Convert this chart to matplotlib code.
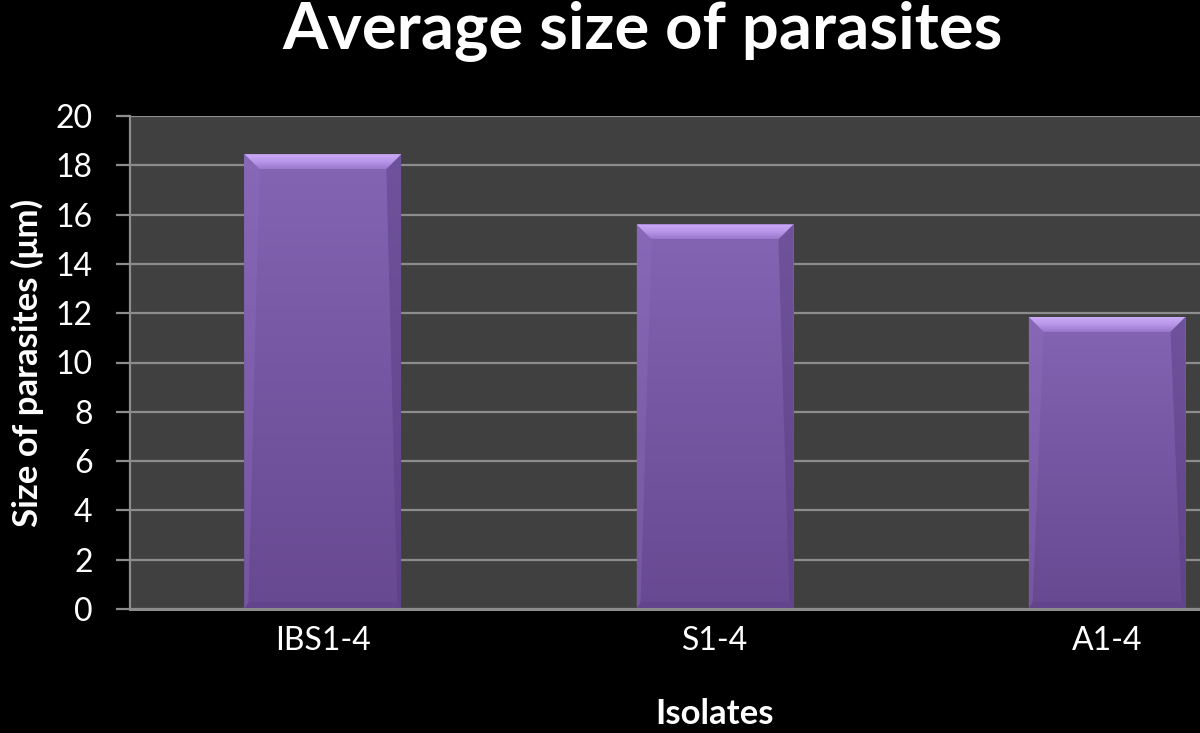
import numpy as np
import matplotlib
matplotlib.use("Agg")
import matplotlib.pyplot as plt
from matplotlib.colors import LinearSegmentedColormap
from matplotlib.patches import Polygon

categories = ["IBS1-4", "S1-4", "A1-4"]
values = [18.45, 15.6, 11.85]
yticks = [0, 2, 4, 6, 8, 10, 12, 14, 16, 18, 20]

FONT = ["Lato", "DejaVu Sans"]
plt.rcParams["font.family"] = FONT

W, H = 1200, 733
fig = plt.figure(figsize=(W / 100, H / 100), dpi=100, facecolor="black")
ax_left, ax_right, ax_top, ax_bot = 130, 1200, 116, 609
ax = fig.add_axes([ax_left / W, (H - ax_bot) / H, (ax_right - ax_left) / W, (ax_bot - ax_top) / H])
ax.set_facecolor("#404040")

x = np.arange(len(categories))
xlim = (-0.492, 2.237)
ylim = (0, 20)

bars = ax.bar(x, values, width=0.40, color="#7a5aa8", zorder=2, linewidth=0)

body_cmap = LinearSegmentedColormap.from_list("body", ["#674991", "#7556a2", "#8465b4"])
top_cmap = LinearSegmentedColormap.from_list("top", ["#9878cc", "#b896e8", "#cdacf9"])

# pixel -> data conversion
px_x = (xlim[1] - xlim[0]) / (ax_right - ax_left)
px_y = (ylim[1] - ylim[0]) / (ax_bot - ax_top)

for b in bars:
    x0, w, h = b.get_x(), b.get_width(), b.get_height()
    grad = np.linspace(1, 0, 256).reshape(-1, 1)
    im = ax.imshow(grad, extent=[x0, x0 + w, 0, h], aspect="auto", cmap=body_cmap, zorder=3)
    im.set_clip_path(b)
    bx, by = 15 * px_x, 15 * px_y
    sx, sy = 4 * px_x, 7 * px_y
    # top bevel
    top = Polygon([(x0, h), (x0 + w, h), (x0 + w - bx, h - by), (x0 + bx, h - by)],
                  closed=True, facecolor="none", edgecolor="none", zorder=4)
    ax.add_patch(top)
    im2 = ax.imshow(grad, extent=[x0, x0 + w, h - by, h], aspect="auto", cmap=top_cmap, zorder=4)
    im2.set_clip_path(top)
    # left bevel
    ax.add_patch(Polygon([(x0, h), (x0 + bx, h - by), (x0 + sx, sy), (x0, 0)],
                         closed=True, facecolor="#8e70c0", edgecolor="none", alpha=0.35, zorder=4))
    # right bevel
    ax.add_patch(Polygon([(x0 + w, h), (x0 + w - bx, h - by), (x0 + w - sx, sy), (x0 + w, 0)],
                         closed=True, facecolor="#563c7e", edgecolor="none", alpha=0.45, zorder=4))
    # bottom bevel
    ax.add_patch(Polygon([(x0, 0), (x0 + sx, sy), (x0 + w - sx, sy), (x0 + w, 0)],
                         closed=True, facecolor="#5c4085", edgecolor="none", alpha=0.5, zorder=4))

ax.set_xlim(*xlim)
ax.set_ylim(*ylim)
ax.set_yticks(yticks)
ax.set_yticklabels([str(v) for v in yticks])
ax.set_xticks(x)
ax.set_xticklabels(categories)

ax.grid(axis="y", color="#8c8c8c", linewidth=1.6, zorder=1)
ax.set_axisbelow(True)
for s in ["top", "right"]:
    ax.spines[s].set_visible(False)
ax.spines["left"].set_color("#8c8c8c")
ax.spines["left"].set_linewidth(1.6)
ax.spines["bottom"].set_color("#8c8c8c")
ax.spines["bottom"].set_linewidth(2.2)
ax.spines["bottom"].set_zorder(5)

ax.tick_params(axis="y", colors="#8c8c8c", length=10, width=1.6, pad=17, labelcolor="white", labelsize=23)
ax.tick_params(axis="x", length=0, pad=12, labelcolor="white", labelsize=23)

ax.set_ylabel("Size of parasites (μm)", color="white", fontsize=25, fontweight="bold", labelpad=8)
ax.set_xlabel("Isolates", color="white", fontsize=25, fontweight="bold")
# center xlabel under the middle category
xc = (1 - xlim[0]) / (xlim[1] - xlim[0])
ax.xaxis.set_label_coords(xc, -0.18)

fig.text(643 / W, 1 - 32 / H, "Average size of parasites", color="white", fontsize=47,
         fontweight="bold", ha="center", va="center")

fig.savefig("out.png", dpi=100, facecolor="black")
